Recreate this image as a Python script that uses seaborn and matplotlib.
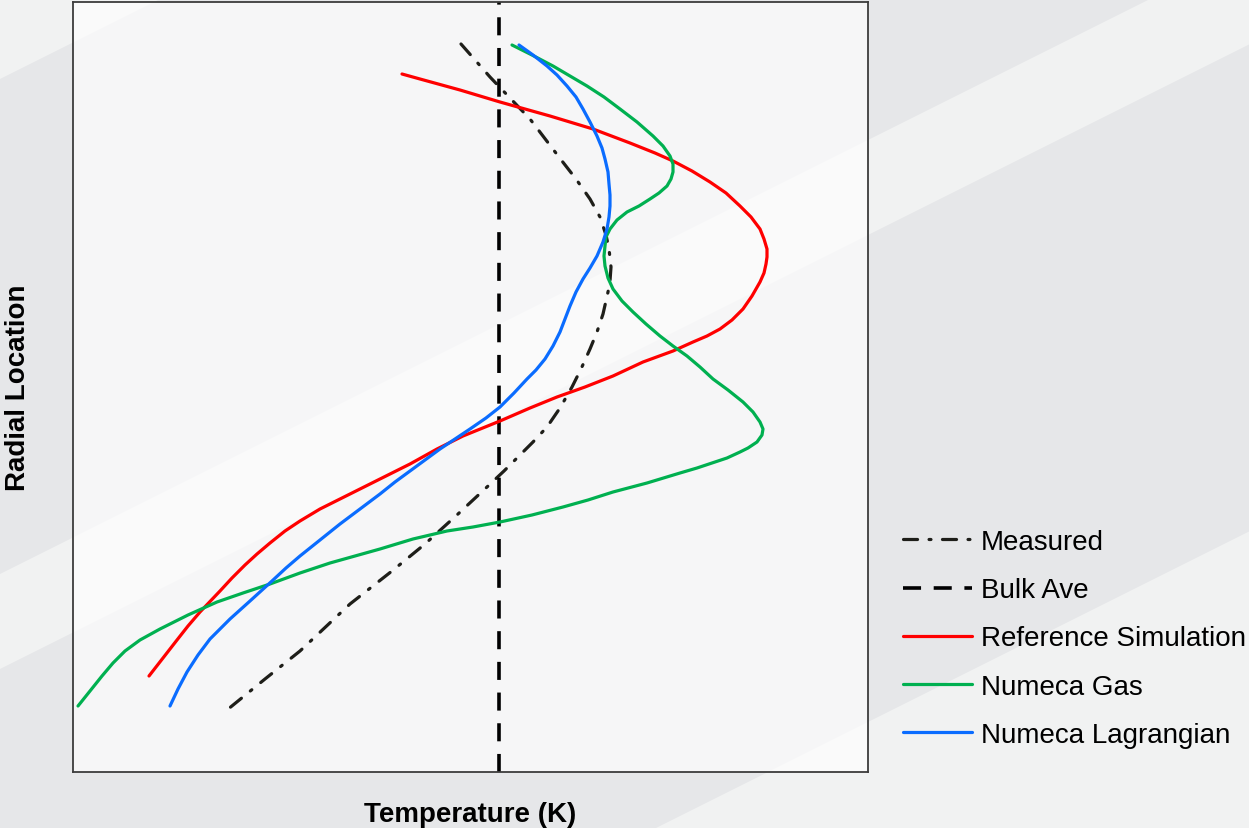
import numpy as np
import pandas as pd
import seaborn as sns
import matplotlib.pyplot as plt
from matplotlib.patches import Polygon

# Profiles: temperature (x) against radial location (y), arbitrary units
measured_T = [388, 417, 457, 489, 503, 517, 527, 533, 536, 538, 537, 535, 530, 524,
              517, 508, 499, 487, 474, 460, 446, 431, 414, 385, 352, 319, 277, 227,
              192, 154]
measured_r = [728, 695, 653, 611, 593, 573, 555, 537, 523, 505, 491, 480, 458, 440,
              423, 403, 385, 364, 345, 330, 316, 301, 285, 258, 228, 201, 168, 121,
              93, 62]

reference_T = [329, 347, 387, 427, 477, 520, 557, 582, 600, 619, 637, 653, 667, 678,
               687, 691, 694, 694, 693, 691, 687, 679, 670, 659, 647, 634, 620, 600,
               570, 540, 512, 484, 457, 427, 390, 364, 337, 307, 287, 267, 247, 227,
               212, 197, 184, 172, 159, 147, 127, 115, 104, 90, 76]
reference_r = [698, 693, 682, 670, 656, 643, 629, 619, 611, 601, 590, 579, 566, 555,
               543, 533, 523, 515, 508, 499, 490, 476, 463, 452, 443, 436, 430, 421,
               410, 396, 385, 375, 364, 351, 336, 323, 308, 293, 283, 273, 263, 251,
               241, 229, 218, 207, 194, 181, 160, 146, 132, 114, 96]

gas_T = [439, 459, 480, 497, 514, 531, 547, 564, 580, 590, 597, 600, 600, 598, 594,
         586, 577, 566, 554, 544, 537, 533, 532, 531, 532, 535, 540, 549, 560, 573,
         587, 600, 614, 627, 640, 655, 670, 680, 687, 690, 689, 684, 675, 667, 654,
         639, 624, 607, 574, 540, 515, 490, 459, 427, 400, 374, 340, 307, 282, 257,
         227, 197, 170, 144, 115, 87, 67, 52, 40, 29, 17, 5]
gas_r = [727, 717, 706, 696, 686, 675, 663, 650, 636, 626, 616, 608, 600, 593, 586,
         579, 573, 566, 560, 552, 543, 535, 526, 516, 506, 494, 483, 471, 460, 448,
         436, 426, 416, 405, 393, 382, 370, 360, 350, 343, 337, 330, 324, 320, 314,
         309, 304, 299, 289, 280, 272, 265, 257, 250, 245, 241, 233, 223, 216, 209,
         199, 188, 179, 170, 157, 143, 132, 121, 109, 96, 81, 66]

lagrangian_T = [446, 460, 474, 484, 494, 503, 510, 517, 524, 529, 532, 535, 536, 537,
                537, 536, 534, 530, 524, 517, 510, 503, 497, 492, 487, 480, 472, 463,
                454, 441, 427, 413, 397, 382, 367, 352, 337, 322, 307, 287, 267, 247,
                227, 213, 199, 188, 177, 167, 157, 147, 137, 125, 114, 105, 97]
lagrangian_r = [727, 717, 706, 697, 686, 675, 663, 650, 636, 624, 613, 600, 588, 577,
                566, 555, 543, 530, 516, 504, 493, 480, 466, 453, 440, 426, 413, 402,
                393, 379, 365, 354, 343, 333, 323, 312, 301, 290, 278, 263, 248, 232,
                216, 204, 191, 181, 171, 162, 153, 143, 133, 117, 100, 83, 66]

bulk_T = 426
radial_span = [0, 770]
temp_span = [0, 795]

labels = ["Measured", "Bulk Ave", "Reference Simulation", "Numeca Gas",
          "Numeca Lagrangian"]
colors = ["#1e1e19", "#000000", "#ff0000", "#00b050", "#0a6cff"]

sns.set_theme(style="white")
plt.rcParams["font.family"] = ["Liberation Sans", "DejaVu Sans"]
plt.rcParams["text.color"] = "black"
plt.rcParams["axes.labelcolor"] = "black"

W, H = 1249, 829
fig = plt.figure(figsize=(W / 100, H / 100), dpi=100)
fig.patch.set_facecolor("#e6e7e9")

# diagonal light bands across the background
def band(u0, u1):
    pts = [(-200, u0 + 100), (1500, u0 - 750), (1500, u1 - 750), (-200, u1 + 100)]
    return [(x / W, 1 - y / H) for x, y in pts]

for u0, u1 in [(-400, 80), (575, 670), (1157, 2000)]:
    fig.add_artist(Polygon(band(u0, u1), closed=True, transform=fig.transFigure,
                           facecolor="#f1f2f2", edgecolor="none", zorder=-5))

ax = fig.add_axes([73 / W, 1 - 773 / H, 795 / W, 770 / H])
ax.set_facecolor((1, 1, 1, 0.66))

lw = 2.3
round_kw = dict(solid_capstyle="round", solid_joinstyle="round")
sns.lineplot(x=measured_T, y=measured_r, sort=False, estimator=None, ax=ax,
             color=colors[0], lw=lw, linestyle=(0, (4.4, 3.6, 0.6, 3.6)),
             dash_capstyle="round", label=labels[0])
sns.lineplot(x=[bulk_T, bulk_T], y=radial_span, sort=False, estimator=None, ax=ax,
             color=colors[1], lw=lw + 0.3, linestyle=(0, (5, 3.5)), label=labels[1])
sns.lineplot(x=reference_T, y=reference_r, sort=False, estimator=None, ax=ax,
             color=colors[2], lw=lw, label=labels[2], **round_kw)
sns.lineplot(x=gas_T, y=gas_r, sort=False, estimator=None, ax=ax,
             color=colors[3], lw=lw, label=labels[3], **round_kw)
sns.lineplot(x=lagrangian_T, y=lagrangian_r, sort=False, estimator=None, ax=ax,
             color=colors[4], lw=lw, label=labels[4], **round_kw)

ax.set_xlim(temp_span)
ax.set_ylim(radial_span)
ax.set_xticks([])
ax.set_yticks([])
for s in ax.spines.values():
    s.set_color("#3c3c3c")
    s.set_linewidth(1.3)

ax.set_xlabel("Temperature (K)", fontsize=20, fontweight="bold", labelpad=21,
              color="black")
ax.set_ylabel("Radial Location", fontsize=20, fontweight="bold", labelpad=30,
              color="black")

handles, labs = ax.get_legend_handles_labels()
leg = ax.legend(handles, labs, loc="upper left", bbox_to_anchor=(903 / W, 1 - 530 / H),
                bbox_transform=fig.transFigure, frameon=False, borderpad=0,
                borderaxespad=0, fontsize=20, handlelength=2.5, handletextpad=0.3,
                labelspacing=0.8)
for t in leg.get_texts():
    t.set_color("black")

fig.savefig("out.png", dpi=100, facecolor=fig.get_facecolor())
